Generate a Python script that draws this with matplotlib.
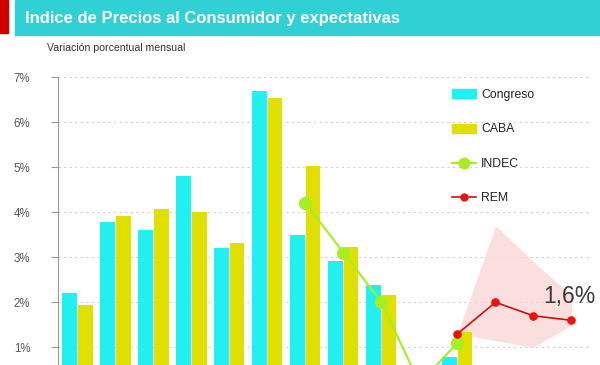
import numpy as np
import matplotlib
matplotlib.use("Agg")
import matplotlib.pyplot as plt
from matplotlib.patches import Rectangle
from matplotlib.lines import Line2D
from matplotlib.patches import Patch

# ---------------- data ----------------
months = ["nov-15", "dic-15", "ene-16", "feb-16", "mar-16", "abr-16", "may-16",
          "jun-16", "jul-16", "ago-16", "sep-16", "oct-16", "nov-16", "dic-16"]
congreso = [2.2, 3.78, 3.6, 4.8, 3.2, 6.68, 3.49, 2.91, 2.39, 0.4, 0.79, np.nan, np.nan, np.nan]
caba = [1.95, 3.92, 4.08, 4.0, 3.31, 6.53, 5.03, 3.22, 2.16, 0.2, 1.35, np.nan, np.nan, np.nan]
indec_months = ["may-16", "jun-16", "jul-16", "ago-16", "sep-16"]
indec = [4.2, 3.1, 2.0, 0.2, 1.1]
rem_months = ["sep-16", "oct-16", "nov-16", "dic-16"]
rem = [1.3, 2.0, 1.7, 1.6]
rem_hi = [1.3, 3.7, 2.9, 2.15]
rem_lo = [1.3, 1.15, 1.0, 1.5]
yticks = [1, 2, 3, 4, 5, 6, 7]
ytick_labels = ["1%", "2%", "3%", "4%", "5%", "6%", "7%"]
title = "Indice de Precios al Consumidor y expectativas"
subtitle = "Variación porcentual mensual"
annotation = "1,6%"

# ---------------- style ----------------
C_CONG = "#22F0F0"
C_CABA = "#E0E000"
C_INDEC = "#A4EE22"
C_REM_M = "#EE1111"
C_REM_L = "#CC1111"
C_BAND = "#FBD8D8"
C_BANNER = "#30D0D4"
FONT = "Liberation Sans"

plt.rcParams["font.family"] = [FONT, "DejaVu Sans"]

fig = plt.figure(figsize=(6.0, 3.65), dpi=100)
W, H = 600.0, 365.0

# banner
fig.patches.append(Rectangle((15 / W, 1 - 35 / H), 1 - 15 / W, 35 / H,
                             transform=fig.transFigure, color=C_BANNER, zorder=0))
fig.patches.append(Rectangle((0, 1 - 33 / H), 8 / W, 33 / H,
                             transform=fig.transFigure, color="#D00000", zorder=0))
fig.text(25 / W, 1 - 18 / H, title, color="white", fontsize=11.95, fontweight="bold",
         va="center", ha="left")
fig.text(47 / W, 1 - 48 / H, subtitle, color="#333333", fontsize=7.6,
         va="center", ha="left")

# axes: y from 0 (below figure) to 7 at y=77px
y0px, y7px = 392.4, 77.0
ax = fig.add_axes([58 / W, (H - y0px) / H, (592 - 58) / W, (y0px - y7px) / H])
x = np.arange(len(months))
idx = {m: i for i, m in enumerate(months)}
xi = np.array([idx[m] for m in indec_months])
xr = np.array([idx[m] for m in rem_months])

bw = 0.39
ax.fill_between(xr, rem_lo, rem_hi, color=C_BAND, alpha=0.8, lw=0, zorder=1)
ax.bar(x - bw / 2 - 0.005, congreso, width=bw, color=C_CONG, zorder=2, label="Congreso")
ax.bar(x + bw / 2 + 0.005, caba, width=bw, color=C_CABA, zorder=2, label="CABA")
ax.plot(xi, indec, color=C_INDEC, lw=1.5, marker="o", ms=8.5, zorder=4, label="INDEC")
ax.plot(xr, rem, color=C_REM_L, lw=1.2, marker="o", ms=5.2, mfc=C_REM_M, mec=C_REM_M,
        zorder=5, label="REM")

ax.set_xlim(-0.513, 13.54)
ax.set_ylim(0, 7)
ax.set_yticks(yticks)
ax.set_yticklabels(ytick_labels)
ax.tick_params(axis="y", length=5, width=0.8, color="#999999", labelcolor="#555555",
               labelsize=8.3, pad=15)
ax.set_xticks([])
for s in ["top", "right", "bottom"]:
    ax.spines[s].set_visible(False)
ax.spines["left"].set_color("#999999")
ax.spines["left"].set_linewidth(0.8)
ax.yaxis.grid(True, color="#D0D0D0", linestyle=(0, (2, 3)), lw=0.8, zorder=0)
ax.set_axisbelow(True)

ax.text(13.62, 2.12, annotation, fontsize=16.5, color="#3a3a3a", ha="right", va="center",
        zorder=6)

handles = [Patch(color=C_CONG), Patch(color=C_CABA),
           Line2D([], [], color=C_INDEC, lw=1.5, marker="o", ms=7.5),
           Line2D([], [], color=C_REM_L, lw=1.2, marker="o", ms=5, mfc=C_REM_M, mec=C_REM_M)]
labels = ["Congreso", "CABA", "INDEC", "REM"]
fig.legend(handles, labels, loc="upper left", bbox_to_anchor=(452 / W, 1 - 89 / H),
           bbox_transform=fig.transFigure, frameon=False, fontsize=8.8, borderpad=0,
           borderaxespad=0, labelspacing=1.84, handlelength=2.0, handletextpad=0.4,
           handleheight=0.75, labelcolor="#222222")

fig.savefig("out.png", dpi=100)
